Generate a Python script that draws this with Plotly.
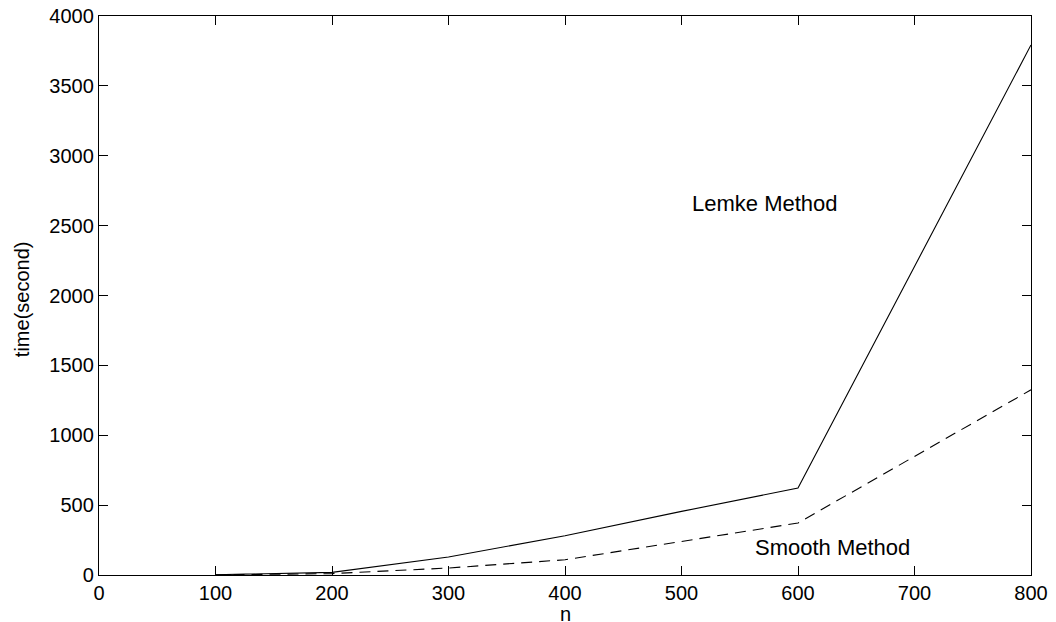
import plotly.graph_objects as go

n_values = [100, 200, 300, 400, 500, 600, 800]
lemke_time = [2, 19, 129, 281, 455, 622, 3793]
smooth_time = [1, 10, 50, 109, 240, 372, 1325]

x_ticks = [0, 100, 200, 300, 400, 500, 600, 700, 800]
y_ticks = [0, 500, 1000, 1500, 2000, 2500, 3000, 3500, 4000]

FONT = "Liberation Sans, Arial, Helvetica, sans-serif"

fig = go.Figure()
fig.add_trace(go.Scatter(x=n_values, y=lemke_time, mode="lines",
                         line=dict(color="black", width=1.1), name="Lemke Method"))
fig.add_trace(go.Scatter(x=n_values, y=smooth_time, mode="lines",
                         line=dict(color="black", width=1.1, dash="11px,7px"),
                         name="Smooth Method"))

axis_common = dict(showgrid=False, zeroline=False, showline=True, linecolor="black",
                   linewidth=1.3, mirror="ticks", ticks="inside", ticklen=9,
                   tickcolor="black", tickwidth=1, automargin=False,
                   ticklabeloverflow="allow",
                   tickfont=dict(family=FONT, size=20, color="black"))

fig.update_xaxes(range=[0, 800], tickvals=x_ticks, ticktext=[str(v) for v in x_ticks],
                 **axis_common)
fig.update_yaxes(range=[0, 4000], tickvals=y_ticks, ticktext=[str(v) for v in y_ticks],
                 **axis_common)

fig.add_annotation(x=572, y=2656, text="Lemke Method", showarrow=False,
                   font=dict(family=FONT, size=22, color="black"))
fig.add_annotation(x=630, y=197, text="Smooth Method", showarrow=False,
                   font=dict(family=FONT, size=22, color="black"))
fig.add_annotation(x=400, xref="x", y=-0.069, yref="paper", text="n", showarrow=False,
                   yanchor="middle", font=dict(family=FONT, size=20, color="black"))
fig.add_annotation(x=-0.0823, xref="paper", y=0.494, yref="paper", text="time(second)",
                   showarrow=False, textangle=-90, xanchor="center", yanchor="middle",
                   font=dict(family=FONT, size=20, color="black"))

fig.update_layout(width=1048, height=614, showlegend=False,
                  paper_bgcolor="white", plot_bgcolor="white",
                  margin=dict(l=91, r=25, t=8, b=47, autoexpand=False))

fig.write_html("out.html")
